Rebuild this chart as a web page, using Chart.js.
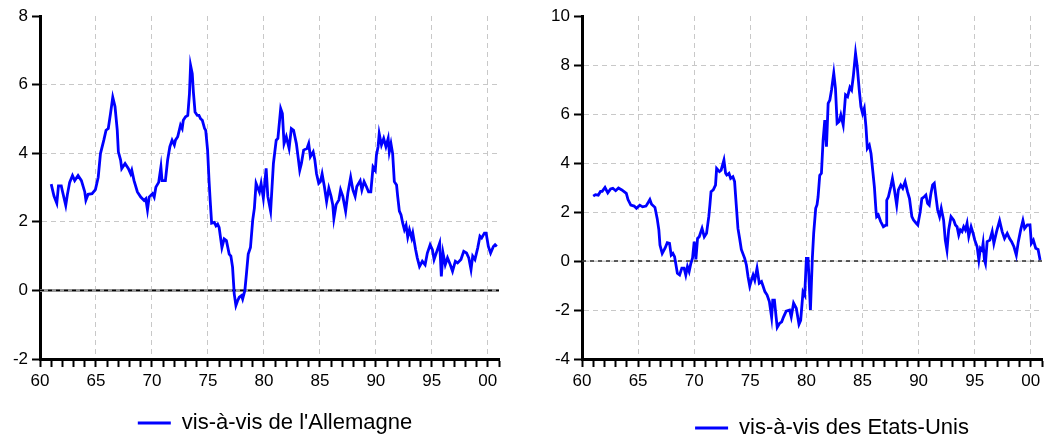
<!DOCTYPE html>
<html lang="fr">
<head>
<meta charset="utf-8">
<title>Différentiels de taux d'intérêt réels</title>
<script src="https://cdn.jsdelivr.net/npm/chart.js@4.4.1/dist/chart.umd.min.js"></script>
<style>
  html, body { margin: 0; padding: 0; background: #ffffff; overflow: hidden; }
  #wrap { position: relative; width: 1049px; height: 441px; }
  canvas { position: absolute; top: 0; }
  #cAll { left: 0; }
  #cUS { left: 524px; }
</style>
</head>
<body>
<div id="wrap">
  <canvas id="cAll" width="524" height="441"></canvas>
  <canvas id="cUS" width="525" height="441"></canvas>
</div>
<script>
// Axis tick labels (years 1960-2000, two-digit)
const majorYears  = [60, 65, 70, 75, 80, 85, 90, 95, 100];
const majorLabels = ['60', '65', '70', '75', '80', '85', '90', '95', '00'];

// Reference line at zero
const zeroLineYears  = [60, 101];
const zeroLineValues = [0, 0];

// Différentiel vis-à-vis de l'Allemagne
const allemagneYears = [
  61.0, 61.25, 61.5, 61.65, 61.9, 62.0, 62.3, 62.45, 62.65, 62.9, 63.1, 63.4, 63.7, 64.0, 64.1, 64.3, 64.65, 64.95,
  65.2, 65.4, 65.7, 65.9, 66.1, 66.3, 66.5, 66.7, 66.9, 67.0, 67.2, 67.3, 67.6, 67.9, 68.1, 68.2, 68.4, 68.7,
  69.0, 69.3, 69.45, 69.6, 69.75, 70.05, 70.2, 70.35, 70.6, 70.8, 70.9, 71.2, 71.4, 71.6, 71.8, 72.0, 72.1, 72.3,
  72.55, 72.7, 72.8, 73.0, 73.2, 73.35, 73.45, 73.6, 73.7, 73.85, 74.05, 74.2, 74.35, 74.5, 74.7, 74.8, 74.97, 75.1,
  75.2, 75.33, 75.57, 75.72, 75.87, 76.0, 76.25, 76.45, 76.65, 76.9, 77.05, 77.2, 77.35, 77.5, 77.65, 77.8, 78.0, 78.1,
  78.3, 78.45, 78.6, 78.8, 79.0, 79.15, 79.3, 79.6, 79.75, 79.95, 80.2, 80.35, 80.6, 80.85, 81.1, 81.25, 81.5, 81.65,
  81.8, 82.0, 82.25, 82.45, 82.65, 82.9, 83.05, 83.2, 83.35, 83.55, 83.85, 84.0, 84.15, 84.4, 84.55, 84.7, 84.9, 85.05,
  85.2, 85.4, 85.6, 85.8, 86.0, 86.15, 86.25, 86.45, 86.7, 86.85, 87.05, 87.3, 87.5, 87.75, 87.95, 88.15, 88.3, 88.6,
  88.75, 88.95, 89.15, 89.35, 89.55, 89.75, 89.95, 90.05, 90.2, 90.3, 90.5, 90.7, 90.9, 91.1, 91.2, 91.35, 91.5, 91.65,
  91.85, 91.95, 92.1, 92.25, 92.4, 92.55, 92.7, 92.85, 93.0, 93.2, 93.3, 93.55, 93.7, 93.9, 94.15, 94.4, 94.6, 94.85,
  95.05, 95.2, 95.5, 95.7, 95.85, 96.0, 96.2, 96.4, 96.65, 96.85, 97.1, 97.3, 97.6, 97.85, 98.1, 98.3, 98.5, 98.65,
  98.85, 99.1, 99.3, 99.45, 99.7, 99.85, 100.05, 100.25, 100.5, 100.65, 100.8
];
const allemagneValues = [
  3.10, 2.75, 2.54, 3.05, 3.05, 2.90, 2.48, 2.80, 3.15, 3.35, 3.20, 3.35, 3.20, 2.87, 2.63, 2.80, 2.82, 2.94,
  3.30, 3.99, 4.38, 4.67, 4.72, 5.16, 5.63, 5.36, 4.67, 4.04, 3.80, 3.55, 3.70, 3.55, 3.40, 3.50, 3.20, 2.87,
  2.72, 2.62, 2.67, 2.35, 2.72, 2.82, 2.72, 3.01, 3.15, 3.60, 3.20, 3.20, 3.80, 4.19, 4.38, 4.24, 4.38, 4.48,
  4.82, 4.72, 4.96, 5.06, 5.10, 5.73, 6.56, 6.32, 5.79, 5.20, 5.10, 5.10, 5.00, 4.96, 4.72, 4.67, 4.09, 3.20,
  2.63, 1.96, 1.98, 1.88, 1.93, 1.84, 1.25, 1.50, 1.45, 1.06, 1.00, 0.68, -0.10, -0.44, -0.30, -0.20, -0.15, -0.25,
  0.00, 0.52, 1.06, 1.25, 2.05, 2.40, 3.12, 2.87, 3.12, 2.69, 3.56, 2.74, 2.31, 3.70, 4.38, 4.43, 5.30, 5.16,
  4.28, 4.48, 4.14, 4.72, 4.67, 4.28, 3.90, 3.50, 3.70, 4.09, 4.14, 4.28, 3.90, 4.04, 3.80, 3.40, 3.12, 3.17,
  3.40, 3.03, 2.59, 2.98, 2.74, 2.50, 2.10, 2.50, 2.64, 2.93, 2.74, 2.31, 2.84, 3.30, 2.93, 2.74, 3.03, 3.20,
  2.93, 3.17, 3.03, 2.87, 2.87, 3.60, 3.50, 3.94, 4.19, 4.57, 4.24, 4.43, 4.19, 4.43, 4.04, 4.28, 3.99, 3.17,
  3.07, 2.74, 2.31, 2.20, 1.96, 1.77, 1.90, 1.56, 1.77, 1.53, 1.67, 1.19, 0.95, 0.70, 0.85, 0.75, 1.09, 1.33,
  1.19, 0.90, 1.19, 1.38, 0.41, 1.09, 0.75, 0.95, 0.75, 0.56, 0.85, 0.80, 0.90, 1.14, 1.09, 0.95, 0.61, 1.00,
  0.90, 1.24, 1.58, 1.53, 1.67, 1.67, 1.28, 1.09, 1.28, 1.33, 1.28
];

// Différentiel vis-à-vis des Etats-Unis
const etatsUnisYears = [
  61.0, 61.2, 61.45, 61.65, 61.8, 62.05, 62.3, 62.55, 62.75, 63.0, 63.25, 63.55, 63.75, 63.95, 64.1, 64.35, 64.65, 64.85,
  65.15, 65.4, 65.7, 65.9, 66.05, 66.2, 66.5, 66.7, 66.85, 66.95, 67.15, 67.4, 67.6, 67.8, 67.95, 68.1, 68.25, 68.5,
  68.7, 68.9, 69.1, 69.25, 69.4, 69.55, 69.7, 69.85, 70.0, 70.15, 70.3, 70.45, 70.7, 70.9, 71.1, 71.3, 71.4, 71.5,
  71.7, 71.9, 72.0, 72.25, 72.4, 72.65, 72.8, 72.9, 73.1, 73.25, 73.45, 73.6, 73.75, 73.9, 74.05, 74.2, 74.5, 74.65,
  74.8, 74.95, 75.1, 75.25, 75.4, 75.6, 75.8, 76.0, 76.15, 76.3, 76.5, 76.7, 76.9, 77.0, 77.15, 77.3, 77.4, 77.6,
  77.8, 77.95, 78.2, 78.5, 78.65, 78.86, 79.1, 79.34, 79.49, 79.7, 79.85, 80.0, 80.15, 80.36, 80.53, 80.65, 80.83, 80.95,
  81.04, 81.19, 81.34, 81.49, 81.64, 81.79, 81.94, 82.09, 82.24, 82.44, 82.59, 82.74, 82.92, 83.07, 83.28, 83.49, 83.67, 83.88,
  84.03, 84.18, 84.38, 84.53, 84.71, 84.86, 85.01, 85.16, 85.31, 85.43, 85.61, 85.76, 85.91, 86.06, 86.2, 86.26, 86.41, 86.62,
  86.86, 87.1, 87.16, 87.31, 87.52, 87.67, 87.85, 88.05, 88.2, 88.41, 88.59, 88.8, 89.01, 89.19, 89.4, 89.55, 89.79, 89.93,
  90.14, 90.29, 90.5, 90.65, 90.8, 90.95, 91.1, 91.25, 91.4, 91.55, 91.7, 91.87, 92.02, 92.23, 92.38, 92.53, 92.68, 92.89,
  93.13, 93.28, 93.43, 93.58, 93.72, 93.87, 94.02, 94.17, 94.32, 94.47, 94.68, 94.86, 95.01, 95.22, 95.37, 95.51, 95.66, 95.75,
  95.87, 95.96, 96.11, 96.35, 96.56, 96.71, 96.95, 97.22, 97.45, 97.66, 97.9, 98.11, 98.29, 98.5, 98.71, 98.89, 99.1, 99.3,
  99.45, 99.69, 99.93, 100.05, 100.23, 100.44, 100.65, 100.83
];
const etatsUnisValues = [
  2.65, 2.71, 2.69, 2.84, 2.84, 3.00, 2.78, 2.94, 2.97, 2.87, 2.98, 2.90, 2.83, 2.76, 2.51, 2.28, 2.24, 2.15,
  2.28, 2.21, 2.24, 2.39, 2.51, 2.32, 2.19, 1.74, 1.27, 0.65, 0.31, 0.52, 0.75, 0.72, 0.24, 0.31, 0.18, -0.50,
  -0.57, -0.29, -0.29, -0.57, -0.23, -0.43, -0.10, 0.11, 0.79, 0.07, 0.92, 0.99, 1.33, 0.99, 1.13, 1.81, 2.29, 2.83,
  2.90, 3.10, 3.78, 3.65, 3.71, 4.12, 3.58, 3.51, 3.58, 3.37, 3.44, 3.24, 2.28, 1.33, 0.92, 0.47, 0.11, -0.16,
  -0.64, -1.02, -0.78, -0.57, -0.78, -0.30, -0.91, -0.84, -1.04, -1.25, -1.39, -1.66, -2.30, -1.60, -1.60, -2.28, -2.71, -2.55,
  -2.48, -2.30, -2.05, -2.00, -2.28, -1.72, -1.93, -2.58, -2.42, -1.26, -1.39, 0.11, 0.11, -2.00, 0.11, 1.13, 2.15, 2.30,
  2.61, 3.50, 3.58, 4.94, 5.75, 4.67, 6.43, 6.57, 6.98, 7.67, 7.05, 5.62, 5.69, 5.96, 5.55, 6.78, 6.71, 7.09,
  6.98, 7.53, 8.48, 7.94, 6.98, 6.30, 6.02, 6.23, 5.48, 4.60, 4.73, 4.39, 3.71, 3.03, 2.08, 1.81, 1.88, 1.61,
  1.40, 1.47, 2.48, 2.62, 3.03, 3.37, 2.90, 2.28, 2.90, 3.10, 2.97, 3.24, 2.83, 2.55, 1.81, 1.67, 1.54, 1.47,
  2.00, 2.55, 2.62, 2.69, 2.35, 2.28, 2.76, 3.10, 3.17, 2.62, 2.08, 1.81, 2.15, 1.67, 0.85, 0.44, 1.27, 1.81,
  1.67, 1.47, 1.40, 1.06, 1.27, 1.20, 1.40, 1.27, 1.54, 1.00, 1.40, 1.13, 0.85, 0.58, 0.04, 0.52, 0.44, 0.72,
  0.04, -0.10, 0.79, 0.85, 1.20, 0.72, 1.20, 1.65, 1.20, 0.92, 1.13, 0.92, 0.79, 0.58, 0.24, 0.79, 1.27, 1.65,
  1.33, 1.47, 1.47, 0.72, 0.85, 0.52, 0.47, 0.04
];

const FONT = "'Liberation Sans', Arial, Helvetica, sans-serif";
const GRID = '#c8c8c8';
const CLEAR = 'rgba(0,0,0,0)';

// Moves the legend box by a fixed offset once the layout is computed
const legendOffset = {
  id: 'legendOffset',
  afterLayout(chart, args, opts) {
    const lg = chart.legend;
    if (!lg) return;
    const dx = opts.dx || 0, dy = opts.dy || 0;
    lg.left += dx; lg.right += dx; lg.top += dy; lg.bottom += dy;
  }
};

function points(xs, ys) {
  return xs.map((x, i) => ({ x: x, y: ys[i] }));
}

function makeChart(cfg) {
  return new Chart(document.getElementById(cfg.id), {
    type: 'line',
    data: {
      datasets: [
        {
          label: cfg.label,
          data: points(cfg.years, cfg.values),
          borderColor: '#0000ff',
          backgroundColor: '#0000ff',
          borderWidth: 2.8,
          pointRadius: 0,
          tension: 0,
          order: 0
        },
        {
          label: 'zero-dash',
          data: points(zeroLineYears, zeroLineValues),
          borderColor: '#000000',
          borderWidth: cfg.zeroDashWidth,
          borderDash: [4, 4],
          pointRadius: 0,
          order: 1
        },
        {
          label: 'zero-base',
          data: points(zeroLineYears, zeroLineValues),
          borderColor: cfg.zeroBaseColor,
          borderWidth: cfg.zeroBaseWidth,
          pointRadius: 0,
          order: 2
        }
      ]
    },
    options: {
      responsive: false,
      animation: false,
      events: [],
      layout: { padding: { top: 16, right: cfg.padRight, bottom: 0, left: 0 } },
      plugins: {
        tooltip: { enabled: false },
        legendOffset: { dx: cfg.dx, dy: cfg.dy },
        legend: {
          position: 'bottom',
          align: 'center',
          labels: {
            filter: (item) => item.datasetIndex === 0,
            usePointStyle: true,
            pointStyle: 'line',
            pointStyleWidth: 33,
            padding: 10,
            color: '#000000',
            font: { family: FONT, size: 22 }
          }
        }
      },
      scales: {
        x: {
          type: 'linear',
          min: 60,
          max: 101,
          afterFit: (s) => { s.height = 40; },
          ticks: {
            stepSize: 1,
            autoSkip: false,
            maxRotation: 0,
            minRotation: 0,
            padding: 4,
            color: '#000000',
            font: { family: FONT, size: 17 },
            callback: (v) => {
              const i = majorYears.indexOf(v);
              return i >= 0 ? majorLabels[i] : '';
            }
          },
          grid: {
            color: (c) => (c.tick && c.tick.value % 5 === 0 && c.tick.value <= 100) ? GRID : CLEAR,
            lineWidth: 1,
            drawTicks: true,
            tickLength: 8,
            tickWidth: 2,
            tickColor: '#000000'
          },
          border: { display: true, color: '#000000', width: 3, dash: [5, 4] }
        },
        y: {
          min: cfg.yMin,
          max: cfg.yMax,
          afterFit: (s) => { s.width = cfg.yAxisWidth; },
          ticks: {
            stepSize: 2,
            padding: 4,
            color: '#000000',
            font: { family: FONT, size: 17 },
            callback: (v) => String(v)
          },
          grid: {
            color: (c) => (c.tick && c.tick.value !== cfg.yMax && c.tick.value !== cfg.yMin) ? GRID : CLEAR,
            lineWidth: 1,
            drawTicks: true,
            tickLength: 8,
            tickWidth: 2,
            tickColor: '#000000'
          },
          border: { display: true, color: '#000000', width: 3, dash: [5, 4] }
        }
      }
    },
    plugins: [legendOffset]
  });
}

makeChart({
  id: 'cAll', years: allemagneYears, values: allemagneValues, label: "vis-à-vis de l'Allemagne",
  yMin: -2, yMax: 8, yAxisWidth: 40, padRight: 25, dx: 25.5, dy: 3,
  zeroDashWidth: 1.5, zeroBaseColor: '#9a9a9a', zeroBaseWidth: 3
});
makeChart({
  id: 'cUS', years: etatsUnisYears, values: etatsUnisValues, label: 'vis-à-vis des Etats-Unis',
  yMin: -4, yMax: 10, yAxisWidth: 58, padRight: 7, dx: 49, dy: 8,
  zeroDashWidth: 1.2, zeroBaseColor: '#cfcfcf', zeroBaseWidth: 1
});
</script>
</body>
</html>
